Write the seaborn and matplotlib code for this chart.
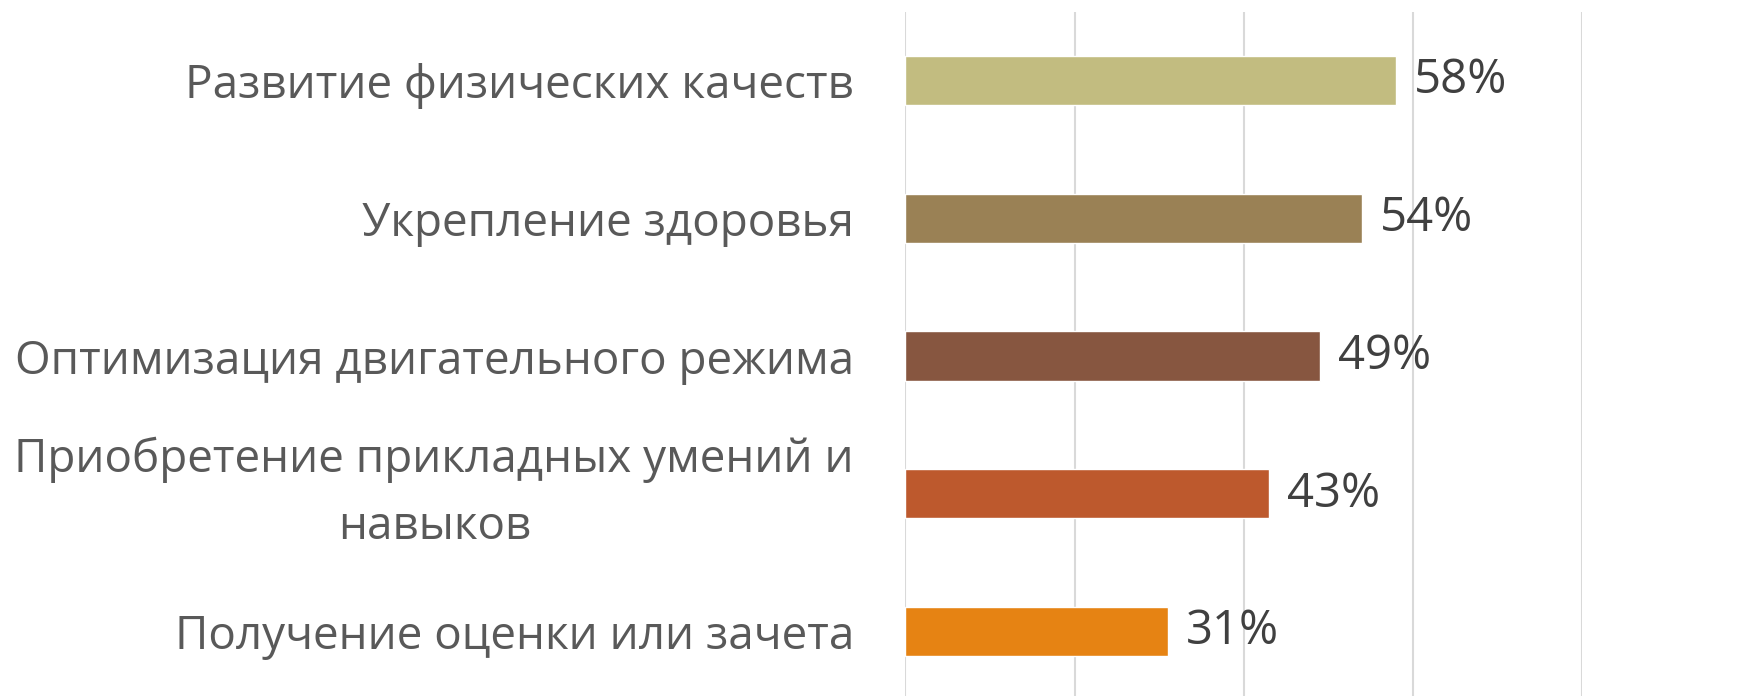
import matplotlib
matplotlib.use("Agg")
import matplotlib.pyplot as plt
import seaborn as sns
import pandas as pd

categories = ["Развитие физических качеств",
              "Укрепление здоровья",
              "Оптимизация двигательного режима",
              "Приобретение прикладных умений и\nнавыков",
              "Получение оценки или зачета"]
values = [0.58, 0.54, 0.49, 0.43, 0.31]
bar_colors = ["#C2BC80", "#9A8155", "#875640", "#BD592D", "#E68313"]
tick_vals = [0.0, 0.2, 0.4, 0.6, 0.8]

sns.set_style("white")
plt.rcParams['font.family'] = ['Open Sans', 'DejaVu Sans']

df = pd.DataFrame({"cat": categories, "val": values})

fig = plt.figure(figsize=(17.44, 6.96), dpi=100)
ax = fig.add_axes([0.5192, -0.0063, 0.3879, 0.9896])

sns.barplot(data=df, x="val", y="cat", hue="cat", palette=bar_colors,
            orient="h", width=0.356, legend=False, ax=ax, saturation=1)

ax.set_xlim(0, 0.8)
ax.set_ylim(4.5, -0.5)
ax.set_xticks(tick_vals)
ax.set_xticklabels([])
ax.xaxis.grid(True, color="#D9D9D9", linewidth=1.5)
ax.set_axisbelow(True)
for s in ax.spines.values():
    s.set_visible(False)
ax.tick_params(axis="both", length=0)
ax.tick_params(axis="y", pad=37, labelsize=33, labelcolor="#595959")
for lbl in ax.get_yticklabels():
    lbl.set_multialignment("center")
    if "\n" in lbl.get_text():
        lbl.set_linespacing(1.6)
        lbl.set_verticalalignment("center")
ax.set_xlabel("")
ax.set_ylabel("")

for i, v in enumerate(values):
    ax.text(v + 0.021, i, "{:.0%}".format(v), va="center", ha="left",
            fontsize=34, color="#404040")

fig.savefig("out.png", dpi=100)
